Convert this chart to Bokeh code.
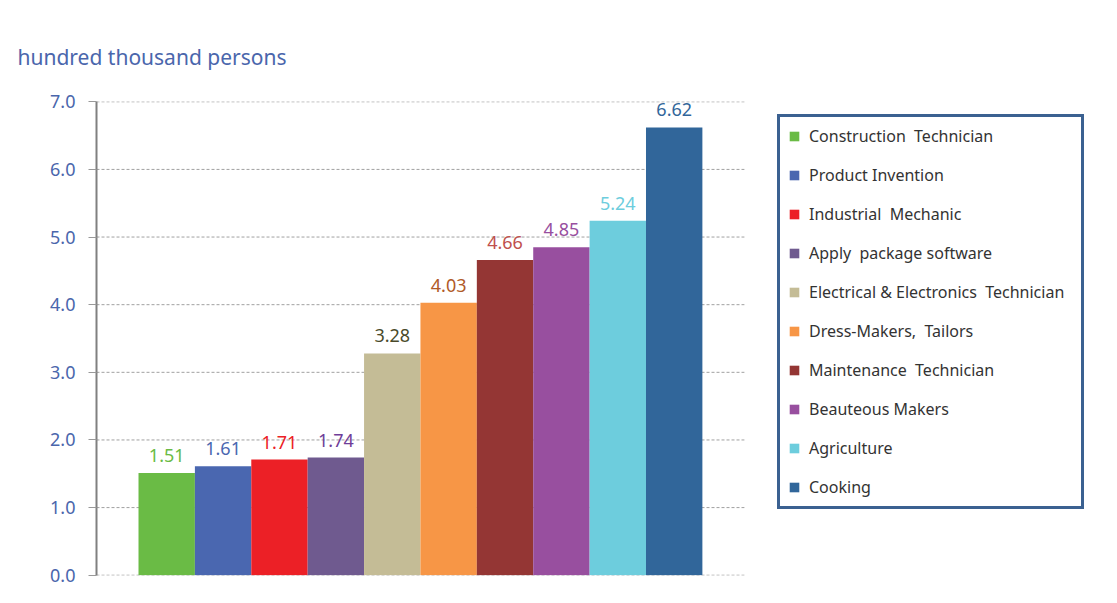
from bokeh.plotting import figure
from bokeh.models import ColumnDataSource, Legend, LegendItem, FixedTicker, NumeralTickFormatter, Range1d
from bokeh.embed import file_html
from bokeh.resources import INLINE

categories = ["Construction  Technician", "Product Invention", "Industrial  Mechanic",
              "Apply  package software", "Electrical & Electronics  Technician",
              "Dress-Makers,  Tailors", "Maintenance  Technician", "Beauteous Makers",
              "Agriculture", "Cooking"]
values = [1.51, 1.61, 1.71, 1.74, 3.28, 4.03, 4.66, 4.85, 5.24, 6.62]
labels = ["1.51", "1.61", "1.71", "1.74", "3.28", "4.03", "4.66", "4.85", "5.24", "6.62"]
bar_colors = ["#6abb45", "#4a67b0", "#ec2026", "#6f5a8f", "#c4bc96",
              "#f79646", "#943634", "#984f9f", "#6dcddd", "#31669a"]
label_colors = ["#6abb45", "#4a67b0", "#ec2026", "#6f3d98", "#4a4a2a",
                "#b05a28", "#c0504d", "#984f9f", "#6dcddd", "#31669a"]
y_ticks = [0, 1, 2, 3, 4, 5, 6, 7]
y_title = "hundred  thousand persons"

FONT = "Noto Sans"
BLUE = "#4a66ac"

# chart area spans these x data bounds; frame is widened to hold the legend on the right
X0, X1 = -1.245, len(values) - 1 + 1.245
X_END = 16.72

src = ColumnDataSource(dict(x=list(range(len(values))), top=values, cat=categories,
                            color=bar_colors, lab=labels, lcolor=label_colors))
grid_src = ColumnDataSource(dict(y=y_ticks, x0=[X0] * len(y_ticks), x1=[X1] * len(y_ticks)))

p = figure(width=1109, height=595, output_backend="svg", toolbar_location=None,
           x_range=Range1d(X0, X_END), y_range=Range1d(-0.004, 7.004),
           x_axis_location=None, min_border_left=96, min_border_right=0,
           min_border_top=101, min_border_bottom=20)
p.outline_line_color = None
p.xgrid.visible = False
p.ygrid.visible = False

p.segment(x0="x0", x1="x1", y0="y", y1="y", source=grid_src, line_color="#a0a0a0",
          line_dash="3 2", line_width=1)

p.title.text = y_title
p.title.align = "left"
p.title.offset = -79
p.title.standoff = 62
p.title.text_color = BLUE
p.title.text_font = FONT
p.title.text_font_size = "21px"
p.title.text_font_style = "normal"

bars = p.vbar(x="x", top="top", width=1.0, source=src, fill_color="color", line_color=None)

p.text(x="x", y="top", text="lab", source=src, text_color="lcolor", text_align="center",
       text_baseline="bottom", y_offset=-11, text_font_size="18px",
       text_font={"value": FONT})

ax = p.yaxis[0]
ax.ticker = FixedTicker(ticks=y_ticks)
ax.formatter = NumeralTickFormatter(format="0.0")
ax.bounds = (0, 7)
ax.axis_line_color = "#808080"
ax.axis_line_width = 2
ax.major_tick_line_color = "#999999"
ax.major_tick_out = 8
ax.major_tick_in = 0
ax.minor_tick_line_color = None
ax.major_label_text_color = BLUE
ax.major_label_text_font = FONT
ax.major_label_text_font_size = "18px"
ax.major_label_standoff = 13

items = [LegendItem(label=c, renderers=[bars], index=i) for i, c in enumerate(categories)]
legend = Legend(items=items, location=(681, 66), orientation="vertical")
legend.border_line_color = "#3b6191"
legend.border_line_width = 3
legend.border_line_alpha = 1
legend.background_fill_color = "white"
legend.background_fill_alpha = 1
legend.label_text_font = FONT
legend.label_text_font_size = "16px"
legend.label_text_color = "#333333"
legend.glyph_width = 12
legend.glyph_height = 12
legend.label_height = 20
legend.label_width = 264
legend.spacing = 17
legend.padding = 8
legend.margin = 0
legend.label_standoff = 9
p.add_layout(legend, "center")

open("out.html", "w").write(file_html(p, INLINE))
